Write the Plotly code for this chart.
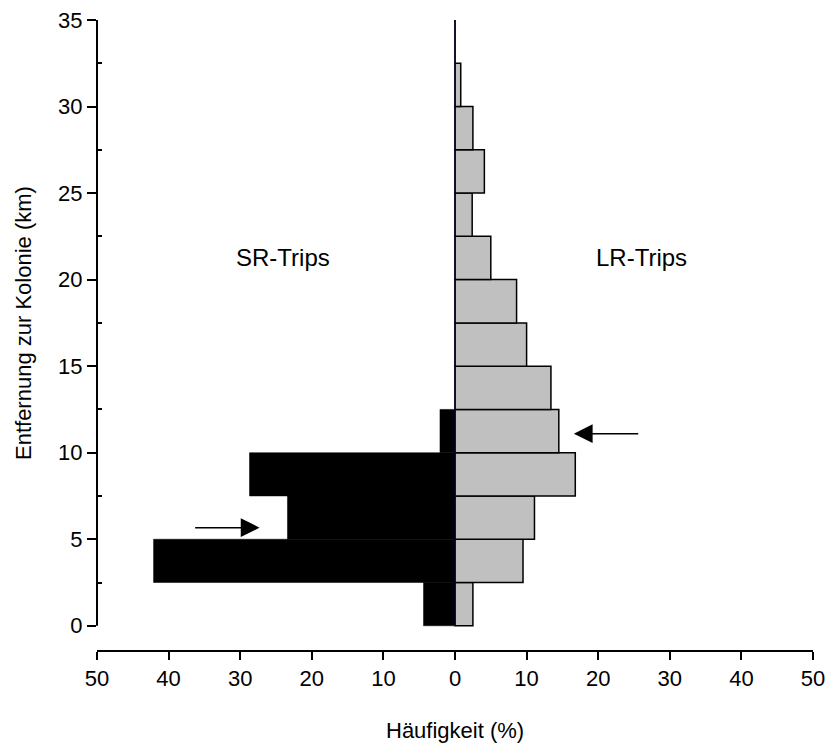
import plotly.graph_objects as go

# Distance bins (km), lower edges, bin width 2.5
bin_lower = [0, 2.5, 5, 7.5, 10, 12.5, 15, 17.5, 20, 22.5, 25, 27.5, 30, 32.5]
bin_width = 2.5
# LR-trips frequency (%)
lr_values = [2.5, 9.5, 11.1, 16.8, 14.5, 13.4, 10.0, 8.6, 5.0, 2.4, 4.1, 2.5, 0.8, 0.0]
# SR-trips frequency (%)
sr_values = [4.4, 42.1, 23.4, 28.7, 2.1, 0, 0, 0, 0, 0, 0, 0, 0, 0]

x_ticks = [-50, -40, -30, -20, -10, 0, 10, 20, 30, 40, 50]
x_ticktext = [str(abs(v)) for v in x_ticks]
y_ticks = [0, 5, 10, 15, 20, 25, 30, 35]
y_minor = [2.5, 7.5, 12.5, 17.5, 22.5, 27.5, 32.5]

# arrows: (tail_x, tip_x, y)
arrow_sr = (-36.5, -27.3, 5.67)
arrow_lr = (25.8, 16.6, 11.1)

centers = [b + bin_width / 2 for b in bin_lower]

FONT = "Arial, Liberation Sans, sans-serif"

fig = go.Figure()
fig.add_trace(go.Bar(
    y=centers, x=lr_values, orientation="h", width=bin_width,
    marker=dict(color="#c0c0c0", line=dict(color="black", width=1.5)),
    showlegend=False,
))
fig.add_trace(go.Bar(
    y=centers, x=[-v for v in sr_values], orientation="h", width=bin_width,
    marker=dict(color="black", line=dict(color="black", width=0.5)),
    showlegend=False,
))

fig.update_layout(
    width=827, height=744,
    margin=dict(l=97, r=14, t=20, b=94, autoexpand=False),
    paper_bgcolor="white", plot_bgcolor="white",
    barmode="overlay",
    font=dict(family=FONT, size=22, color="black"),
    xaxis=dict(
        range=[-50, 50], tickvals=x_ticks, ticktext=x_ticktext,
        showline=True, linecolor="black", linewidth=2,
        ticks="outside", ticklen=8, tickwidth=2, tickcolor="black",
        showgrid=False, zeroline=False, automargin=False,
        tickfont=dict(family=FONT, size=22),
    ),
    yaxis=dict(
        range=[-1.4, 35], tickvals=y_ticks,
        showline=False,
        ticks="outside", ticklen=9, tickwidth=2, tickcolor="black",
        minor=dict(tickvals=y_minor, ticks="inside", ticklen=5, tickwidth=2, tickcolor="black"),
        showgrid=False, zeroline=False, automargin=False,
        tickfont=dict(family=FONT, size=22),
    ),
    shapes=[
        dict(type="line", xref="paper", yref="y", x0=0, x1=0, y0=0, y1=35,
             line=dict(color="black", width=2)),
        dict(type="line", xref="x", yref="y", x0=0, x1=0, y0=0, y1=35,
             line=dict(color="#000040", width=1)),
    ],
)

annotations = [
    dict(text="SR-Trips", x=-24, y=21.3, xref="x", yref="y", showarrow=False,
         font=dict(family=FONT, size=24)),
    dict(text="LR-Trips", x=26, y=21.3, xref="x", yref="y", showarrow=False,
         font=dict(family=FONT, size=24)),
    dict(text="Häufigkeit (%)", x=0.5, y=-0.127, xref="paper", yref="paper",
         showarrow=False, xanchor="center", yanchor="middle",
         font=dict(family=FONT, size=22)),
    dict(text="Entfernung zur Kolonie (km)", x=-0.1034, y=0.519, xref="paper", yref="paper",
         showarrow=False, xanchor="center", yanchor="middle", textangle=-90,
         font=dict(family=FONT, size=22)),
]
for tail_x, tip_x, yy in (arrow_sr, arrow_lr):
    annotations.append(dict(
        x=tip_x, y=yy, ax=tail_x, ay=yy, xref="x", yref="y", axref="x", ayref="y",
        text="", showarrow=True, arrowhead=2, arrowsize=2.5, arrowwidth=1.5,
        arrowcolor="black", standoff=0,
    ))
fig.update_layout(annotations=annotations)

fig.write_html("out.html")
